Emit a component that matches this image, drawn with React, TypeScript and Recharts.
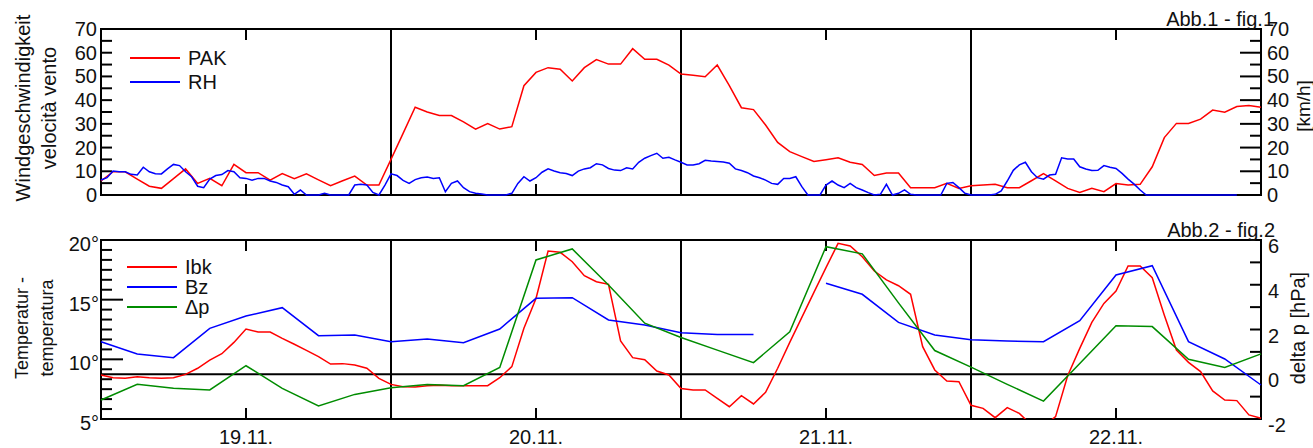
import { Legend, Line, LineChart, ReferenceArea, ReferenceLine, XAxis, YAxis } from "recharts";

const FONT = '"Liberation Sans", Arial, Helvetica, sans-serif';
const INK = "#000";
const TEXT = "#111";

// x axis is hours since 19.11. 00:00
const dayLabels = ["19.11.", "20.11.", "21.11.", "22.11."];
const dayTicks = [12, 36, 60, 84];
const midnights = [24, 48, 72];

const windTicks = [0, 5, 10, 15, 20, 25, 30, 35, 40, 45, 50, 55, 60, 65, 70];
const tempTicks = Array.from({ length: 19 }, (_, i) => 5 + (i * 5) / 6);
const pressTicks = [-2, -1, 0, 1, 2, 3, 4, 5, 6];

const windNames = ["PAK", "RH"];
const tempNames = ["Ibk", "Bz", "Δp"];

// wind speed km/h, hourly
const pakWind = [
  5.9, 9.8, 9.8, 6.7, 3.7, 2.8, 6.9, 11, 4.9, 7, 3.9, 12.9, 9.4, 9.4, 6.3, 9, 6.9, 8.9, 6.4, 3.9, 6, 8, 4.2, 4.2,
  15, 26, 37, 35, 33.5, 33.5, 30.8, 27.8, 30.1, 27.8, 28.8, 46.1, 51.7, 53.7, 53, 48.1, 53.7, 57.1, 55.2, 55.2, 61.7, 57.2, 57.2, 54.8,
  51, 50.5, 49.9, 54.8, 46.1, 36.8, 36, 29.5, 22.2, 18.3, 16.2, 14.1, 14.9, 15.7, 13.8, 12.9, 8.2, 9.3, 9.3, 3.1, 3.1, 3.1, 4.9, 2.8,
  3.9, 4.2, 4.5, 3.1, 3.1, 6, 9, 6, 2.8, 1.1, 2.8, 1.4, 4.8, 4.2, 4.5, 11.9, 24.2, 30.2, 30.2, 32, 35.8, 34.9, 37.3, 37.7, 37,
];

// wind speed km/h, every 30 min
const rhWind = [
  6.3, 7.3, 10.1, 9.8, 9.8, 8.7, 8.4, 11.7, 9.8, 9, 8.9, 11, 12.9, 12.4, 9.8, 7.7, 3.7, 3.1, 6.7, 8.2, 8.6, 10.3, 9.8, 7.3,
  7, 6.2, 7, 7, 5.9, 5.3, 4.2, 3.5, 0.3, 2.1, 0, 0, 0, 0.7, 0, 0, 0, 0, 4.2, 4.5, 4.2, 1.1, 0, 4.2,
  8.9, 8.2, 6.2, 4.9, 6.5, 7.3, 7.6, 7.0, 7.3, 1.4, 4.9, 5.9, 3.1, 1.4, 0.7, 0.4, 0, 0, 0, 0, 0.7, 4.9, 7.7, 5.9,
  7.3, 9.6, 11, 10.1, 9.4, 9.1, 8.2, 10.1, 11, 11.5, 13.2, 12.7, 11.2, 10.5, 10.3, 11.5, 11, 13.8, 15.5, 16.6, 17.6, 15.5, 15.9, 14.8,
  13.8, 12.7, 12.7, 13.2, 14.6, 14.3, 14.1, 13.9, 13.4, 11, 10.3, 9.4, 8, 7.3, 6.3, 4.9, 4.5, 7, 7, 7.7, 3.5, 0, 0, 0,
  4.2, 5.9, 4.2, 3.1, 4.9, 3.1, 2.1, 1, 0, 0.3, 4.5, 0, 0.7, 2.2, 0.3, 0, 0, 0, 0, 0, 4.9, 5.3, 3.1, 0.7,
  0, 0, 0, 0, 0.3, 1.7, 5.9, 10.4, 12.7, 13.8, 9.8, 7.3, 6.7, 8.4, 8.7, 15.7, 15.2, 15.2, 11.9, 11, 10.3, 10.4, 12.4, 11.7,
  11.2, 9.1, 6.7, 4.6, 2.1, 0, 0, 0, 0, 0, 0, 0, 0, 0, 0, 0, 0, 0, 0, 0, 0,
];

// temperature °C, hourly
const ibkTemp = [
  8.69, 8.46, 8.41, 8.55, 8.46, 8.41, 8.46, 8.74, 9.25, 9.94, 10.47, 11.42, 12.54, 12.29, 12.29, 11.76, 11.26, 10.75, 10.22, 9.6, 9.64, 9.53, 9.25, 8.41,
  7.9, 7.71, 7.68, 7.79, 7.82, 7.79, 7.79, 7.79, 7.79, 8.46, 9.39, 12.6, 15.1, 19.08, 18.97, 18.18, 17.01, 16.5, 16.28, 11.54, 10.14, 9.97, 9.02, 8.69,
  7.55, 7.43, 7.43, 6.73, 6.03, 6.96, 6.26, 7.23, 9.25, 11.42, 13.52, 15.61, 17.68, 19.72, 19.5, 18.6, 17.4, 16.65, 16.17, 15.45, 11.06, 9.11, 8.18, 8.13,
  6.15, 5.89, 5.11, 5.95, 5.47, 4.5, 4.4, 5.2, 8.63, 10.92, 13.1, 14.69, 15.73, 17.82, 17.82, 16.84, 13.7, 10.78, 9.75, 8.97, 7.35, 6.59, 6.54, 5.34, 5.06,
];

// temperature °C, every 3 hours (one reading missing)
const bzTemp = [
  11.48, 10.45, 10.14, 12.6, 13.63, 14.33, 11.98, 12.04,
  11.48, 11.7, 11.4, 12.54, 15.11, 15.17, 13.3, 12.88,
  12.23, 12.09, 12.09, null, 16.37, 15.45, 13.1, 12.04,
  11.65, 11.54, 11.48, 13.24, 17.07, 17.85, 11.48, 10.03, 7.85,
];

// pressure difference hPa, every 3 hours
const deltaP = [
  -1.15, -0.45, -0.63, -0.7, 0.38, -0.63, -1.42, -0.9,
  -0.6, -0.46, -0.51, 0.3, 5.11, 5.6, 3.99, 2.28,
  1.64, 1.08, 0.52, 1.9, 5.7, 5.38, 3.19, 1.06,
  0.32, -0.45, -1.2, 0.48, 2.17, 2.13, 0.67, 0.3, 0.91,
];

const toSeries = (values: (number | null)[], step: number) =>
  values.map((v, i) => ({ h: i * step, v }));

const pakData = toSeries(pakWind, 1);
const rhData = toSeries(rhWind, 0.5);
const ibkData = toSeries(ibkTemp, 1);
const bzData = toSeries(bzTemp, 3);
const dpData = toSeries(deltaP, 3);

const X_SPAN = 96;
const near = (v: number, step: number) => Math.abs(v / step - Math.round(v / step)) < 1e-6;

function legendContent(order: string[], rowHeight: number) {
  return ({ payload }: any) => {
    const items = [...(payload ?? [])].sort((a: any, b: any) => order.indexOf(a.value) - order.indexOf(b.value));
    return (
      <div style={{ fontFamily: FONT, fontSize: 20, color: TEXT }}>
        {items.map((e: any) => (
          <div key={e.value} style={{ display: "flex", alignItems: "center", height: rowHeight }}>
            <span style={{ width: 50, borderTop: `2px solid ${e.color}`, marginRight: 8 }} />
            <span>{e.value}</span>
          </div>
        ))}
      </div>
    );
  };
}

const dayLabelTick = (p: any) => (
  <text x={p.x} y={p.y + 25} textAnchor="middle" fontFamily={FONT} fontSize={20} fill={TEXT}>
    {dayLabels[dayTicks.indexOf(p.payload.value)]}
  </text>
);

const sideLabel = (anchor: "start" | "end", label: (v: number) => string | null, dy: number) => (p: any) => {
  const text = label(p.payload.value);
  if (!text) return <g />;
  return (
    <text x={p.x} y={p.y + dy} dy="0.35em" textAnchor={anchor} fontFamily={FONT} fontSize={20} fill={TEXT}>
      {text}
    </text>
  );
};

type Side = { min: number; max: number; ticks: number[]; len: (v: number) => number };

// the plot frame with its inward tick marks, placed on the box the library gives the reference area
const frameShape = (left: Side, right: Side) => (p: any) => {
  const { x, y, width, height } = p;
  const yOf = (s: Side, v: number) => y + (height * (s.max - v)) / (s.max - s.min);
  const xOf = (t: number) => x + (width * t) / X_SPAN;
  const ln = { stroke: INK, strokeWidth: 2 };
  return (
    <g>
      <rect x={x} y={y} width={width} height={height} fill="none" {...ln} />
      {left.ticks.map((v, i) => (
        <line key={`l${i}`} x1={x} x2={x + left.len(v)} y1={yOf(left, v)} y2={yOf(left, v)} {...ln} />
      ))}
      {right.ticks.map((v, i) => (
        <line key={`r${i}`} x1={x + width} x2={x + width - right.len(v)} y1={yOf(right, v)} y2={yOf(right, v)} {...ln} />
      ))}
      {dayTicks.map((t) => (
        <g key={`d${t}`}>
          <line x1={xOf(t)} x2={xOf(t)} y1={y} y2={y + 11} {...ln} />
          <line x1={xOf(t)} x2={xOf(t)} y1={y + height} y2={y + height - 11} {...ln} />
        </g>
      ))}
    </g>
  );
};

const windLeft: Side = { min: 0, max: 70, ticks: windTicks, len: () => 11 };
const windRight: Side = { min: 0, max: 70, ticks: windTicks, len: (v) => (near(v, 10) ? 21 : 11) };
const tempLeft: Side = { min: 5, max: 20, ticks: tempTicks, len: (v) => (near(v, 5) && v > 5 && v < 20 ? 22 : 11) };
const pressRight: Side = { min: -2, max: 6, ticks: pressTicks, len: () => 11 };

function WindChart() {
  return (
    <LineChart width={1313} height={215} margin={{ top: 29, right: 12, bottom: 20, left: 41 }}>
      <XAxis xAxisId="b" dataKey="h" type="number" domain={[0, X_SPAN]} ticks={dayTicks} hide />
      <YAxis yAxisId="l" domain={[0, 70]} ticks={windTicks} interval={0} width={60} tickSize={0} tickMargin={4}
        axisLine={false} tickLine={false}
        tick={sideLabel("end", (v) => (near(v, 10) ? String(v) : null), 0)} />
      <YAxis yAxisId="r" orientation="right" domain={[0, 70]} ticks={windTicks} interval={0} width={40}
        tickSize={0} tickMargin={6} axisLine={false} tickLine={false}
        tick={sideLabel("start", (v) => (near(v, 10) ? String(v) : null), 0)} />
      <ReferenceArea xAxisId="b" yAxisId="l" x1={0} x2={X_SPAN} y1={0} y2={70} ifOverflow="visible"
        shape={frameShape(windLeft, windRight)} />
      {midnights.map((m) => (
        <ReferenceLine key={m} x={m} xAxisId="b" yAxisId="l" stroke={INK} strokeWidth={2} />
      ))}
      <Legend layout="vertical" align="center" verticalAlign="middle"
        wrapperStyle={{ left: 130, top: 46, width: "auto" }} content={legendContent(windNames, 24)} />
      <Line xAxisId="b" yAxisId="l" data={pakData} dataKey="v" name={windNames[0]} stroke="#ff0000"
        strokeWidth={1.5} dot={false} isAnimationActive={false} />
      <Line xAxisId="b" yAxisId="r" data={rhData} dataKey="v" name={windNames[1]} stroke="#0000ff"
        strokeWidth={1.5} dot={false} isAnimationActive={false} />
    </LineChart>
  );
}

function TempChart() {
  return (
    <LineChart width={1313} height={233} margin={{ top: 25, right: 12, bottom: 28, left: 41 }}>
      <XAxis xAxisId="b" dataKey="h" type="number" domain={[0, X_SPAN]} ticks={dayTicks} interval={0}
        orientation="bottom" height={1} tickSize={0} tickMargin={0} axisLine={false} tickLine={false}
        tick={dayLabelTick} />
      <YAxis yAxisId="l" domain={[5, 20]} allowDataOverflow ticks={tempTicks} interval={0} width={60}
        tickSize={0} tickMargin={2} axisLine={false} tickLine={false}
        tick={sideLabel("end", (v) => (near(v, 5) ? `${Math.round(v)}°` : null), 4)} />
      <YAxis yAxisId="r" orientation="right" domain={[-2, 6]} ticks={pressTicks} interval={0} width={40}
        tickSize={0} tickMargin={7} axisLine={false} tickLine={false}
        tick={sideLabel("start", (v) => (near(v, 2) ? String(v) : null), 6)} />
      <ReferenceArea xAxisId="b" yAxisId="l" x1={0} x2={X_SPAN} y1={5} y2={20} ifOverflow="visible"
        shape={frameShape(tempLeft, pressRight)} />
      {midnights.map((m) => (
        <ReferenceLine key={m} x={m} xAxisId="b" yAxisId="l" stroke={INK} strokeWidth={2} />
      ))}
      <ReferenceLine y={0} xAxisId="b" yAxisId="r" stroke={INK} strokeWidth={2} />
      <Legend layout="vertical" align="center" verticalAlign="middle"
        wrapperStyle={{ left: 127, top: 42, width: "auto" }} content={legendContent(tempNames, 20)} />
      <Line xAxisId="b" yAxisId="l" data={ibkData} dataKey="v" name={tempNames[0]} stroke="#ff0000"
        strokeWidth={1.5} dot={false} isAnimationActive={false} />
      <Line xAxisId="b" yAxisId="l" data={bzData} dataKey="v" name={tempNames[1]} stroke="#0000ff"
        strokeWidth={1.5} dot={false} isAnimationActive={false} />
      <Line xAxisId="b" yAxisId="r" data={dpData} dataKey="v" name={tempNames[2]} stroke="#008c00"
        strokeWidth={1.5} dot={false} isAnimationActive={false} />
    </LineChart>
  );
}

const rotated = (cx: number, cy: number, size: number, lineHeight: number): React.CSSProperties => ({
  position: "absolute",
  left: cx,
  top: cy,
  transform: "translate(-50%, -50%) rotate(-90deg)",
  whiteSpace: "nowrap",
  textAlign: "center",
  fontSize: size,
  lineHeight: `${lineHeight}px`,
  color: TEXT,
});

export default function App() {
  return (
    <div style={{ position: "absolute", left: 0, top: 0, width: 1313, height: 448, background: "#fff", fontFamily: FONT, overflow: "hidden" }}>
      <div style={{ position: "absolute", left: 0, top: 0 }}>
        <WindChart />
      </div>
      <div style={{ position: "absolute", left: 0, top: 215 }}>
        <TempChart />
      </div>
      <div style={{ position: "absolute", right: 39, top: 9, fontSize: 20, lineHeight: "20px", color: TEXT }}>Abb.1 - fig.1</div>
      <div style={{ position: "absolute", right: 38, top: 220, fontSize: 20, lineHeight: "20px", color: TEXT }}>Abb.2 - fig.2</div>
      <div style={rotated(36, 108, 20, 26)}>
        Windgeschwindigkeit
        <br />
        velocità vento
      </div>
      <div style={rotated(1304, 106, 19, 20)}>[km/h]</div>
      <div style={rotated(35, 328, 18, 25)}>
        Temperatur -
        <br />
        temperatura
      </div>
      <div style={rotated(1298, 328, 20, 20)}>delta p [hPa]</div>
    </div>
  );
}
